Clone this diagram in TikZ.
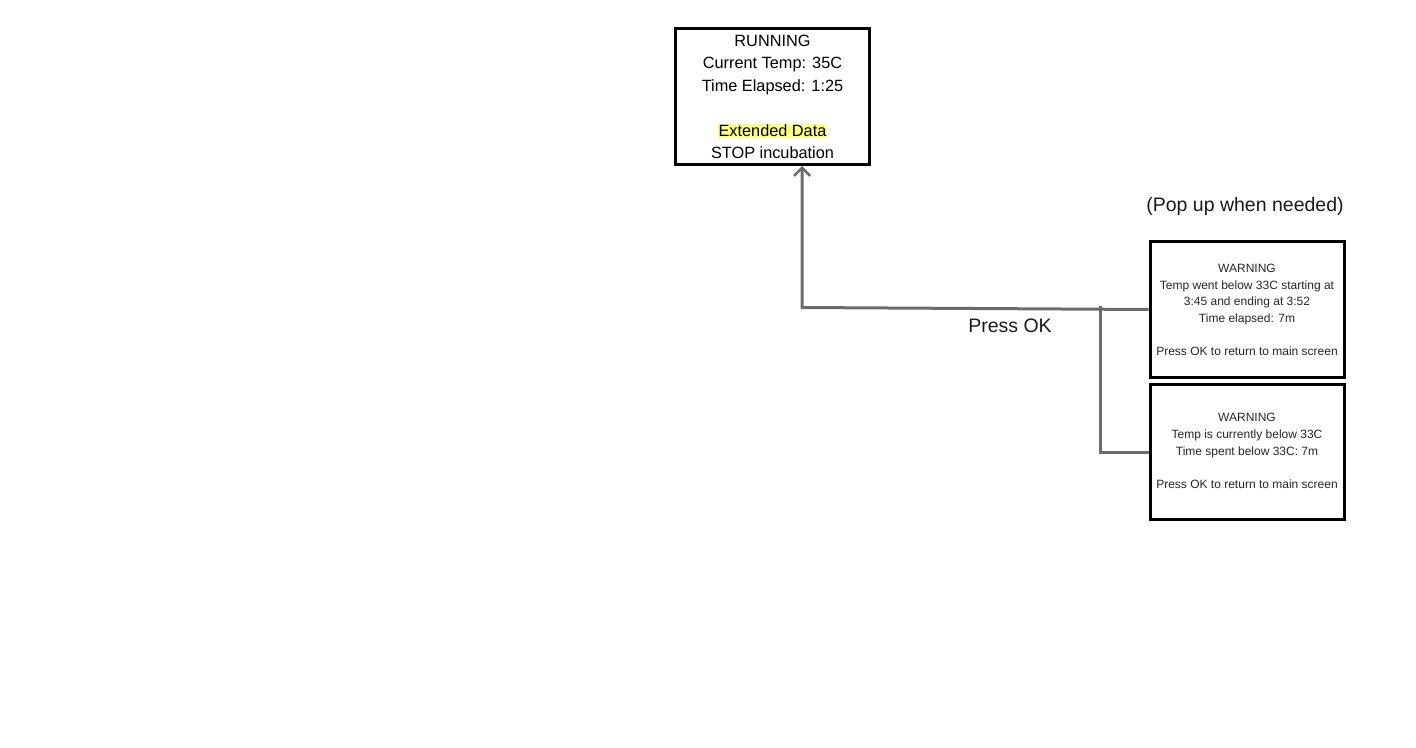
\documentclass[tikz,border=0pt]{standalone}
\usepackage{fontspec}
\setmainfont{Liberation Sans}
\usetikzlibrary{arrows.meta}
\definecolor{conncol}{HTML}{6B6B6B}
\definecolor{hl}{HTML}{FFFF88}
\tikzset{
  screen/.style={draw=black, line width=3pt, minimum width=194pt, inner sep=0pt, fill=white},
  bigtxt/.style={font=\fontsize{16.3}{22.5}\selectfont, align=center, inner sep=0pt},
  smalltxt/.style={font=\fontsize{12}{16.6}\selectfont, align=center, inner sep=0pt, text=black!85},
  labeltxt/.style={font=\fontsize{19.5}{22}\selectfont, inner sep=0pt, text=black!90},
  conn/.style={draw=conncol, line width=3pt},
  connarrow/.style={conn, -{Straight Barb[length=8pt,width=16pt,line width=2.6pt]}}
}
\begin{document}
\begin{tikzpicture}[x=1pt,y=-1pt]
\useasboundingbox (0,0) rectangle (1416,747);
\coordinate (c1) at (802,307.5);
\coordinate (c2) at (1100,306);
\node[screen, minimum height=136pt] (run) at (772.5,96.5) {};
\node[screen, minimum height=136pt] (w1) at (1247,309.5) {};
\node[screen, minimum height=135pt] (w2) at (1247,452) {};
\draw[conn] (w2.west) -- (w2.west -| c2) -- (c2);
\draw[connarrow] (w1.west) -- (c1) -- (c1 |- run.south);
\node[bigtxt] (runtxt) at (772.5,97) {RUNNING\\Current Temp: 35C\\Time Elapsed: 1:25\\[22.5pt]{\setlength\fboxsep{1pt}\colorbox{hl}{Extended Data}}\\STOP incubation};
\node[smalltxt] (w1txt) at (1247,310) {WARNING\\Temp went below 33C starting at\\3:45 and ending at 3:52\\Time elapsed: 7m\\[16.6pt]Press OK to return to main screen};
\node[smalltxt] (w2txt) at (1247,451) {WARNING\\Temp is currently below 33C\\Time spent below 33C: 7m\\[16.6pt]Press OK to return to main screen};
\node[labeltxt] (press) at (1010,326) {Press OK};
\node[labeltxt] (popup) at (1245,206) {(Pop up when needed)};
\end{tikzpicture}
\end{document}
